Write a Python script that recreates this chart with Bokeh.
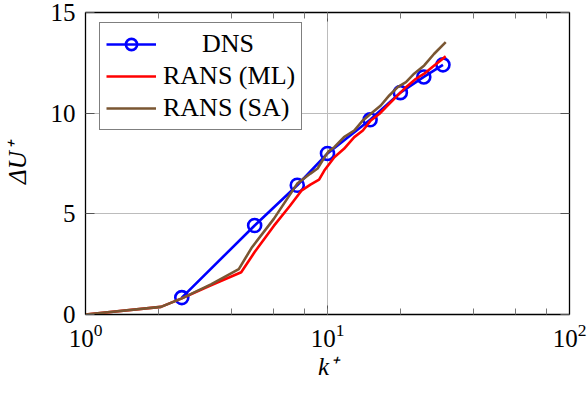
from bokeh.plotting import figure
from bokeh.models import Legend, LegendItem, LogAxis, LinearAxis, LogTicker, FixedTicker, CustomJSTickFormatter, ColumnDataSource
from bokeh.embed import file_html
from bokeh.resources import INLINE

# ---- data ----
dns_k = [2.5, 5.0, 7.5, 10.0, 15.0, 20.0, 25.0, 30.0]
dns_u = [0.84, 4.42, 6.42, 8.0, 9.67, 11.02, 11.8, 12.4]

ml_k = [1.0, 2.05, 2.5, 3.3, 4.4, 5.0, 6.0, 7.0, 7.8, 8.5, 9.23, 9.7, 10.67, 11.7, 12.9, 14.0,
        15.1, 16.4, 17.7, 19.5, 21.1, 23.2, 25.1, 27.6, 30.8]
ml_u = [0.0, 0.38, 0.8, 1.45, 2.1, 3.1, 4.4, 5.4, 6.15, 6.45, 6.7, 7.15, 7.81, 8.23, 8.81, 9.14,
        9.64, 9.97, 10.38, 10.88, 11.29, 11.71, 11.96, 12.37, 12.82]

sa_k = [1.0, 2.05, 2.5, 3.3, 4.3, 4.85, 6.0, 7.5, 8.5, 9.1, 9.7, 10.1, 10.67, 11.7, 12.9, 14.0,
        15.1, 16.6, 18.0, 19.5, 21.1, 22.8, 25.1, 27.6, 30.8]
sa_u = [0.0, 0.38, 0.8, 1.5, 2.25, 3.3, 4.75, 6.5, 7.0, 7.25, 7.8, 8.1, 8.31, 8.81, 9.14, 9.64,
        9.97, 10.38, 10.88, 11.29, 11.54, 11.96, 12.37, 12.95, 13.53]

labels = ["DNS", "RANS (ML)", "RANS (SA)"]
y_ticks = [0, 5, 10, 15]

FONT = "Liberation Serif"
FS = "25px"

p = figure(width=587, height=394, x_axis_type="log", x_range=(1, 100), y_range=(0, 15),
           output_backend="svg", toolbar_location=None,
           min_border_left=84, min_border_right=18, min_border_top=12, min_border_bottom=80)
p.outline_line_color = "black"
p.outline_line_width = 1.3
p.background_fill_color = "white"
p.border_fill_color = "white"

# grid
p.xgrid.grid_line_color = "#bcbcbc"
p.ygrid.grid_line_color = "#bcbcbc"
p.ygrid.ticker = FixedTicker(ticks=y_ticks)

# main axes
p.xaxis.ticker = LogTicker(desired_num_ticks=3)
p.xaxis.axis_label = "k⁺"
p.xaxis.axis_label_text_font = FONT
p.xaxis.axis_label_text_font_size = FS
p.xaxis.axis_label_text_font_style = "italic"
p.xaxis.axis_label_text_color = "black"
p.xaxis.axis_label_standoff = 3
p.xaxis.major_label_text_font = FONT
p.xaxis.major_label_text_font_size = FS
p.xaxis.major_label_text_color = "black"
p.xaxis.major_label_standoff = 9
p.xaxis.major_tick_in = 9
p.xaxis.major_tick_out = 0
p.xaxis.minor_tick_in = 6
p.xaxis.minor_tick_out = 0
p.xaxis.axis_line_color = "black"
p.xaxis.major_tick_line_color = "#555555"
p.xaxis.minor_tick_line_color = "#777777"

p.yaxis.ticker = FixedTicker(ticks=y_ticks)
p.yaxis.axis_label = "ΔU⁺"
p.yaxis.axis_label_text_font = FONT
p.yaxis.axis_label_text_font_size = FS
p.yaxis.axis_label_text_font_style = "italic"
p.yaxis.axis_label_text_color = "black"
p.yaxis.axis_label_standoff = 17
p.yaxis.major_label_text_font = FONT
p.yaxis.major_label_text_font_size = FS
p.yaxis.major_label_text_color = "black"
p.yaxis.major_label_standoff = 10
p.yaxis.major_label_orientation = "horizontal"
p.yaxis.major_tick_in = 9
p.yaxis.major_tick_out = 0
p.yaxis.minor_tick_line_color = None
p.yaxis.axis_line_color = "black"
p.yaxis.major_tick_line_color = "#555555"

empty = CustomJSTickFormatter(code="return '';")
top = LogAxis(ticker=LogTicker(desired_num_ticks=3), formatter=empty, major_tick_in=9, major_tick_out=0,
              minor_tick_in=6, minor_tick_out=0, major_label_text_font_size="0px", major_label_standoff=0,
              axis_line_color="black", major_tick_line_color="#555555", minor_tick_line_color="#777777")
right = LinearAxis(ticker=FixedTicker(ticks=y_ticks), formatter=empty, major_tick_in=9, major_tick_out=0,
                   minor_tick_line_color=None, major_label_text_font_size="0px", major_label_standoff=0,
                   axis_line_color="black", major_tick_line_color="#555555")
p.add_layout(top, "above")
p.add_layout(right, "right")

# series
src_dns = ColumnDataSource(dict(x=dns_k, y=dns_u))
src_ml = ColumnDataSource(dict(x=ml_k, y=ml_u))
src_sa = ColumnDataSource(dict(x=sa_k, y=sa_u))

l_dns = p.line("x", "y", source=src_dns, line_color="#0000ff", line_width=2.6)
c_dns = p.scatter("x", "y", source=src_dns, marker="circle", size=13, line_color="#0000ff",
                  line_width=2.6, fill_color=None)
l_ml = p.line("x", "y", source=src_ml, line_color="#ff0000", line_width=2.6)
l_sa = p.line("x", "y", source=src_sa, line_color="#7a5632", line_width=2.6)

legend = Legend(items=[
    LegendItem(label="\u00a0" * 6 + labels[0], renderers=[l_dns, c_dns]),
    LegendItem(label=labels[1], renderers=[l_ml]),
    LegendItem(label=labels[2], renderers=[l_sa]),
], location=(14, 184))
legend.margin = 0
legend.padding = 6
legend.spacing = 2
legend.glyph_width = 50
legend.glyph_height = 28
legend.label_height = 28
legend.label_standoff = 7
legend.label_text_font = FONT
legend.label_text_font_size = "26px"
legend.label_text_color = "black"
legend.border_line_color = "black"
legend.border_line_width = 1.3
legend.background_fill_alpha = 1
p.add_layout(legend)

open("out.html", "w").write(file_html(p, INLINE))
